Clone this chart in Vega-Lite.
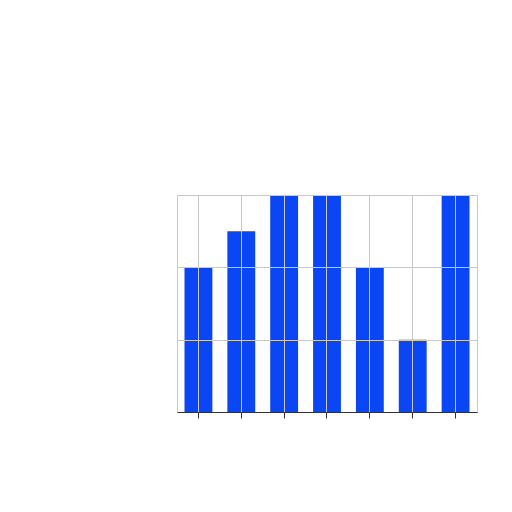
{
  "$schema": "https://vega.github.io/schema/vega-lite/v6.json",
  "width": 300,
  "height": 217,
  "padding": {"left": 177, "top": 195, "right": 5, "bottom": 5},
  "background": "white",
  "data": {"values": [
    {"c": "a", "v": 2},
    {"c": "b", "v": 2.5},
    {"c": "c", "v": 3},
    {"c": "d", "v": 3},
    {"c": "e", "v": 2},
    {"c": "f", "v": 1},
    {"c": "g", "v": 3}
  ]},
  "mark": {"type": "bar", "color": "#0b46f4"},
  "encoding": {
    "x": {"field": "c", "type": "nominal", "sort": null,
      "scale": {"paddingInner": 0.35, "paddingOuter": 0.175},
      "axis": {"title": null, "labels": false, "ticks": true, "tickSize": 6, "tickColor": "#333", "domain": true, "domainColor": "#333", "grid": true, "gridColor": "#c8c8c8", "bandPosition": 0.5, "zindex": 1}},
    "y": {"field": "v", "type": "quantitative",
      "scale": {"domain": [0, 3], "nice": false},
      "axis": {"title": null, "labels": false, "ticks": false, "domain": false, "tickCount": 3, "grid": true, "gridColor": "#c8c8c8", "zindex": 1}}
  },
  "config": {"view": {"stroke": "#c8c8c8"}}
}
